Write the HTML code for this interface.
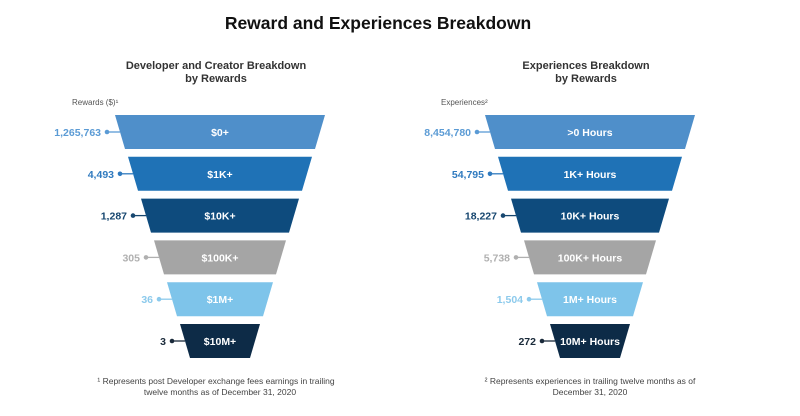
<!DOCTYPE html>
<html><head><meta charset="utf-8"><style>
body{margin:0;background:#fff;width:800px;height:411px;overflow:hidden;font-family:"Liberation Sans",Arial,sans-serif}
</style></head><body>
<svg id="chart" width="800" height="411" xmlns="http://www.w3.org/2000/svg">
<text x="378" y="29" text-anchor="middle" font-size="17.5" font-weight="bold" fill="#111">Reward and Experiences Breakdown</text>
<g font-size="11" font-weight="bold" fill="#333" text-anchor="middle">
<text x="216" y="69">Developer and Creator Breakdown</text><text x="216" y="82">by Rewards</text></g>
<g font-size="11" font-weight="bold" fill="#333" text-anchor="middle">
<text x="586" y="69">Experiences Breakdown</text><text x="586" y="82">by Rewards</text></g>
<text x="72" y="105" font-size="8" fill="#555">Rewards ($)¹</text>
<text x="441" y="105" font-size="8" fill="#555">Experiences²</text>
<g font-size="8.5" fill="#444" text-anchor="middle">
<text x="216" y="384">¹ Represents post Developer exchange fees earnings in trailing</text><text x="220" y="395">twelve months as of December 31, 2020</text></g>
<g font-size="8.5" fill="#444" text-anchor="middle">
<text x="590" y="384">² Represents experiences in trailing twelve months as of</text><text x="590" y="395">December 31, 2020</text></g>
<g id="left"></g><g id="right"></g>
</svg>
<script>
const leftCategories=["$0+","$1K+","$10K+","$100K+","$1M+","$10M+"];
const leftValues=["1,265,763","4,493","1,287","305","36","3"];
const rightCategories=[">0 Hours","1K+ Hours","10K+ Hours","100K+ Hours","1M+ Hours","10M+ Hours"];
const rightValues=["8,454,780","54,795","18,227","5,738","1,504","272"];
const fills=["#4f8fca","#1f72b6","#0e4b7d","#a5a5a5","#7ec4ea","#0d2b47"];
const labelColors=["#5b9bd5","#2f7abf","#16466f","#b0b0b0","#8ccaec","#1a2a3a"];
const NS="http://www.w3.org/2000/svg";
function mk(t,a,p){const e=document.createElementNS(NS,t);for(const k in a)e.setAttribute(k,a[k]);p.appendChild(e);return e;}
function draw(g,cx,cats,vals,side){
  cats.forEach((c,i)=>{
    const top=115+i*41.8, h=34, hw=105-i*13, bw=hw-10;
    const p=mk('polygon',{points:`${cx-hw},${top} ${cx+hw},${top} ${cx+bw},${top+h} ${cx-bw},${top+h}`,fill:fills[i]},g);
    
    
    const t=mk('text',{x:cx,y:top+h/2+4,'text-anchor':'middle','font-size':10.5,'font-weight':'bold',fill:'#fff'},g);
    t.textContent=c;
    
    
    const my=top+h/2, lx=cx-hw+5, dx=cx-hw-8;
    const ln=mk('line',{x1:dx,y1:my,x2:lx,y2:my,stroke:labelColors[i],'stroke-width':1.3},g);
    
    
    const d=mk('circle',{cx:dx,cy:my,r:2.3,fill:labelColors[i]},g);
    
    
    const v=mk('text',{x:dx-6,y:my+4,'text-anchor':'end','font-size':10.5,'font-weight':'bold',fill:labelColors[i]},g);
    v.textContent=vals[i];
    
    
  });
}
draw(document.getElementById('left'),220,leftCategories,leftValues,'left');
draw(document.getElementById('right'),590,rightCategories,rightValues,'right');
</script>
</body></html>
